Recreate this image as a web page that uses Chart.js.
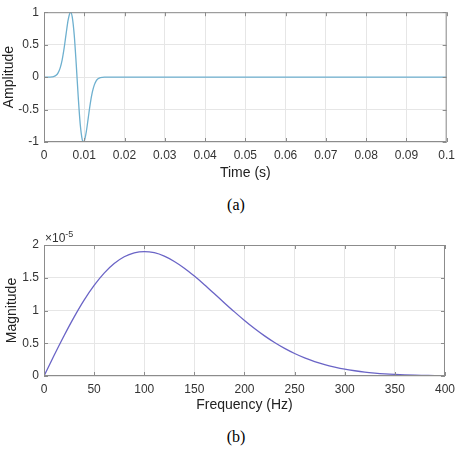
<!DOCTYPE html>
<html lang="en">
<head>
<meta charset="utf-8">
<title>Wavelet and spectrum</title>
<script src="https://cdn.jsdelivr.net/npm/chart.js"></script>
<style>
  html, body { margin: 0; padding: 0; background: #fff; width: 461px; height: 451px; overflow: hidden; }
  .box { position: absolute; left: 0; width: 461px; }
  .cap { position: absolute; left: 216px; width: 40px; text-align: center; line-height: 18px;
         font-family: "Liberation Serif", "Times New Roman", serif; font-size: 16px; color: #000; }
</style>
</head>
<body>

<div class="box" style="top:0;height:186px"><canvas id="timeChart" width="461" height="186"></canvas></div>
<div class="cap" style="top:196px">(a)</div>
<div class="box" style="top:230px;height:186px"><canvas id="freqChart" width="461" height="186"></canvas></div>
<div class="cap" style="top:428px">(b)</div>

<script>
    // (a) wavelet
    const timeS = [0, 0.001, 0.0015, 0.002, 0.0025, 0.003, 0.0035, 0.004, 0.0045, 0.005, 0.0055, 0.006,
                   0.0065, 0.0066, 0.007, 0.0075, 0.008, 0.0085, 0.009, 0.0095, 0.0098, 0.01, 0.0105, 0.011,
                   0.0115, 0.012, 0.0125, 0.013, 0.0135, 0.014, 0.0145, 0.015, 0.016, 0.1];
    const amplitude = [0, 0, 0.001, 0.004, 0.010, 0.027, 0.065, 0.138, 0.263, 0.446, 0.670, 0.881,
                       0.996, 1.0, 0.933, 0.655, 0.204, -0.304, -0.728, -0.963, -1.0, -0.985, -0.843, -0.624,
                       -0.405, -0.233, -0.120, -0.055, -0.023, -0.008, -0.003, -0.001, 0, 0];
    const timeTicks = [0, 0.01, 0.02, 0.03, 0.04, 0.05, 0.06, 0.07, 0.08, 0.09, 0.1];
    const ampTicks = [-1, -0.5, 0, 0.5, 1];

    // (b) spectrum, magnitude in units of 1e-5
    const freqHz = [0, 10, 20, 30, 40, 50, 60, 70, 80, 90, 100, 110, 120, 130, 140, 150, 160, 170, 180, 190,
                    200, 210, 220, 230, 240, 250, 260, 270, 280, 290, 300, 310, 320, 330, 340, 350, 360, 370,
                    380, 390, 400];
    const magnitudeE5 = [0, 0.312, 0.614, 0.898, 1.157, 1.382, 1.570, 1.716, 1.820, 1.880, 1.900, 1.882, 1.830,
                         1.749, 1.646, 1.525, 1.394, 1.256, 1.116, 0.979, 0.848, 0.725, 0.613, 0.512, 0.422,
                         0.344, 0.277, 0.221, 0.174, 0.136, 0.104, 0.080, 0.060, 0.045, 0.033, 0.024, 0.017,
                         0.012, 0.009, 0.006, 0.004];
    const freqTicks = [0, 50, 100, 150, 200, 250, 300, 350, 400];
    const magTicks = [0, 0.5, 1, 1.5, 2];

    const sans = "'Liberation Sans', Arial, sans-serif";

    // MATLAB-like box with inward tick marks, plus optional exponent label
    const matlabBox = {
        id: 'matlabBox',
        afterDraw(chart, args, opts) {
            const { ctx, chartArea: a, scales } = chart;
            ctx.save();
            ctx.strokeStyle = '#8c8c8c';
            ctx.lineWidth = 1;
            ctx.strokeRect(a.left + 0.5, a.top + 0.5, a.width - 1, a.height - 1);
            ctx.beginPath();
            scales.x.ticks.forEach(t => {
                const px = Math.round(scales.x.getPixelForValue(t.value)) + 0.5;
                ctx.moveTo(px, a.bottom); ctx.lineTo(px, a.bottom - 4);
                ctx.moveTo(px, a.top); ctx.lineTo(px, a.top + 4);
            });
            scales.y.ticks.forEach(t => {
                const py = Math.round(scales.y.getPixelForValue(t.value)) + 0.5;
                ctx.moveTo(a.left, py); ctx.lineTo(a.left + 4, py);
                ctx.moveTo(a.right, py); ctx.lineTo(a.right - 4, py);
            });
            ctx.stroke();
            if (opts.exponent) {
                ctx.fillStyle = '#333';
                ctx.textBaseline = 'alphabetic';
                ctx.font = '12px ' + sans;
                ctx.fillText('\u00d710', a.left + 1, a.top - 3);
                const w = ctx.measureText('\u00d710').width;
                ctx.font = '9px ' + sans;
                ctx.fillText(opts.exponent, a.left + 1 + w, a.top - 8);
            }
            ctx.restore();
        }
    };

    function makeChart(id, xs, ys, color, cfg) {
        const ctx = document.getElementById(id).getContext('2d');
        return new Chart(ctx, {
            type: 'line',
            data: {
                datasets: [{
                    data: xs.map((x, i) => ({ x: x, y: ys[i] })),
                    borderColor: color,
                    borderWidth: 1.3,
                    pointRadius: 0,
                    cubicInterpolationMode: 'monotone',
                    fill: false
                }]
            },
            options: {
                responsive: false,
                animation: false,
                layout: { padding: { top: cfg.top, right: 14, left: 0, bottom: 0 } },
                plugins: {
                    legend: { display: false },
                    tooltip: { enabled: false },
                    matlabBox: { exponent: cfg.exponent }
                },
                scales: {
                    x: {
                        type: 'linear',
                        min: cfg.xTicks[0],
                        max: cfg.xTicks[cfg.xTicks.length - 1],
                        afterBuildTicks: s => { s.ticks = cfg.xTicks.map(v => ({ value: v })); },
                        afterFit: s => { s.height = cfg.xHeight; },
                        grid: { color: '#e6e6e6', drawTicks: false },
                        border: { display: false },
                        ticks: {
                            autoSkip: false, maxRotation: 0, padding: 6,
                            color: '#333', font: { family: sans, size: 12 },
                            callback: v => String(v)
                        },
                        title: {
                            display: true, text: cfg.xTitle, color: '#222',
                            font: { family: sans, size: 14 },
                            padding: { top: 0, bottom: cfg.xTitlePad }
                        }
                    },
                    y: {
                        type: 'linear',
                        min: cfg.yTicks[0],
                        max: cfg.yTicks[cfg.yTicks.length - 1],
                        afterBuildTicks: s => { s.ticks = cfg.yTicks.map(v => ({ value: v })); },
                        afterFit: s => { s.width = 44; },
                        grid: { color: '#e6e6e6', drawTicks: false },
                        border: { display: false },
                        ticks: {
                            autoSkip: false, padding: 5,
                            color: '#333', font: { family: sans, size: 12 },
                            callback: v => String(v)
                        },
                        title: {
                            display: true, text: cfg.yTitle, color: '#222',
                            font: { family: sans, size: 14 },
                            padding: { top: cfg.yTitlePad, bottom: 0 }
                        }
                    }
                }
            },
            plugins: [matlabBox]
        });
    }

    makeChart('timeChart', timeS, amplitude, '#6eb0cf', {
        top: 8, xHeight: 44, xTitlePad: 4.6, yTitlePad: 1,
        xTicks: timeTicks, yTicks: ampTicks,
        xTitle: 'Time (s)', yTitle: 'Amplitude'
    });

    makeChart('freqChart', freqHz, magnitudeE5, '#6a64c6', {
        top: 15, xHeight: 40, xTitlePad: 2.6, yTitlePad: 3.5,
        xTicks: freqTicks, yTicks: magTicks,
        xTitle: 'Frequency (Hz)', yTitle: 'Magnitude', exponent: '-5'
    });
</script>

</body>
</html>
